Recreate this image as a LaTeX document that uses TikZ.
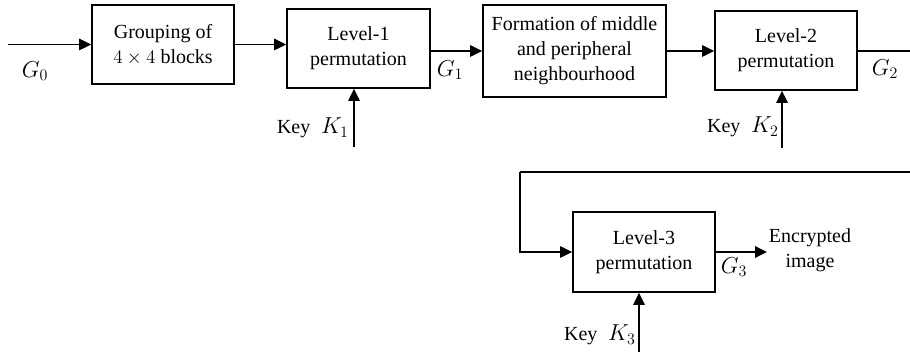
\documentclass[tikz,border=0pt]{standalone}
\usepackage{fontspec}
\setmainfont{Liberation Serif}
\usetikzlibrary{arrows.meta}
\newcommand{\mbig}[1]{{\fontsize{17.5}{20}\selectfont$#1$}}
\begin{document}
\begin{tikzpicture}[x=0.75pt,y=-0.75pt,
  blk/.style={draw,line width=1.2pt,inner sep=0pt,align=center,
    font=\fontsize{15}{18.75}\selectfont},
  conn/.style={line width=1.2pt},
  arr/.style={line width=1.2pt,-{Triangle[length=9pt,width=8.5pt]}},
  lbl/.style={font=\fontsize{15}{18}\selectfont,inner sep=0pt},
  txt/.style={font=\fontsize{15}{18.75}\selectfont,inner sep=0pt,align=center}]
\useasboundingbox (0,0) rectangle (910,352);
\clip (0,0) rectangle (910,352);
% boxes
\node[blk,minimum width=106.5pt,minimum height=59.25pt] (grp) at (163,44.5) {Grouping of\\$4\times 4$ blocks};
\node[blk,minimum width=107.25pt,minimum height=59.25pt] (l1) at (358.5,48.5) {Level-1\\permutation};
\node[blk,minimum width=137.25pt,minimum height=69pt] (form) at (574.5,51) {Formation of middle\\and peripheral\\neighbourhood};
\node[blk,minimum width=106.5pt,minimum height=59.25pt] (l2) at (786,50.5) {Level-2\\permutation};
\node[blk,minimum width=106.5pt,minimum height=60pt] (l3) at (644,252) {Level-3\\permutation};
% free ends
\coordinate (in) at (8,44.5);
\coordinate (k1) at (354,147);
\coordinate (k2) at (782,148);
\coordinate (k3) at (639,352);
\coordinate (r1) at (916,51);
\coordinate (r2) at (916,172);
\coordinate (r3) at (520,172);
\coordinate (r4) at (520,252);
\coordinate (out) at (767,252);
% connectors
\draw[arr] (in) -- (grp.west);
\draw[arr] (grp.east) -- (grp.east -| l1.west);
\draw[arr] (l1.east |- form.west) -- (form.west);
\draw[arr] (form.east) -- (form.east -| l2.west);
\draw[conn] (l2.east |- r1) -- (r1) -- (r2) -- (r3);
\draw[arr] (r3) -- (r4) -- (l3.west);
\draw[arr] (l3.east) -- (out);
\draw[arr] (k1) -- (k1 |- l1.south);
\draw[arr] (k2) -- (k2 |- l2.south);
\draw[arr] (k3) -- (k3 |- l3.south);
% labels
\node[lbl] (g0) at (35,71) {\mbig{G_0}};
\node[lbl] (g1) at (450,70) {\mbig{G_1}};
\node[lbl] (g2) at (885,69) {\mbig{G_2}};
\node[lbl] (g3) at (734,267) {\mbig{G_3}};
\node[lbl,anchor=east] (key1) at (349,128) {Key\hspace{8pt}\mbig{K_1}};
\node[lbl,anchor=east] (key2) at (779,127) {Key\hspace{8pt}\mbig{K_2}};
\node[lbl,anchor=east] (key3) at (636,335) {Key\hspace{8pt}\mbig{K_3}};
\node[txt] (enc) at (810,250) {Encrypted\\image};
\end{tikzpicture}
\end{document}
